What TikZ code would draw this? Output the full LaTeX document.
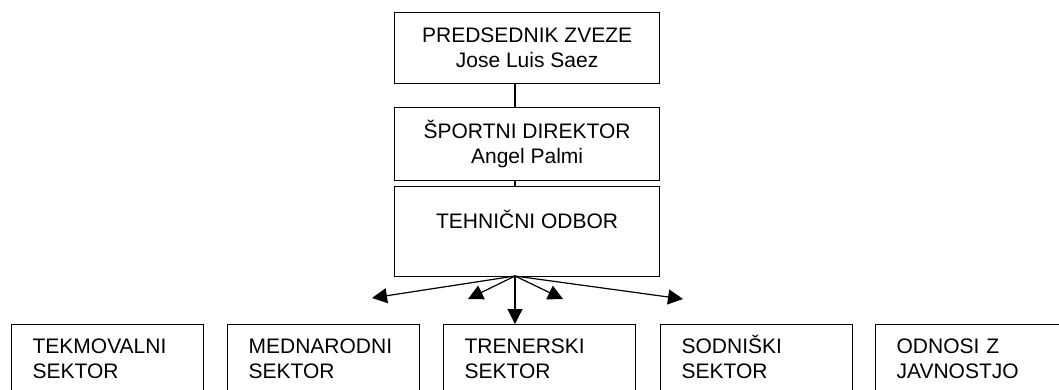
\documentclass[tikz,border=0pt]{standalone}
\usepackage{fontspec}
\setmainfont{Liberation Sans}
\usepackage{tikz}
\usetikzlibrary{arrows.meta}

\tikzset{
  every node/.style={font=\fontsize{21}{25}\selectfont},
  topbox/.style={draw,line width=1.2pt,anchor=north west,minimum width=265pt},
  sektor/.style={draw,line width=1.2pt,anchor=north west,text width=150pt,
    inner xsep=21pt,inner ysep=14pt,text height=15pt,text depth=40pt}
}

\begin{document}
\begin{tikzpicture}[x=1pt,y=-1pt,line width=1.2pt,>={Triangle[length=15pt,width=15pt]}]
  \useasboundingbox (0,0) rectangle (1059,389);
  \node[topbox,align=center,minimum height=71pt] (pres) at (394,12) {PREDSEDNIK ZVEZE\\Jose Luis Saez};
  \node[topbox,align=center,minimum height=73pt] (sport) at (394,107) {ŠPORTNI DIREKTOR\\Angel Palmi};
  \node[topbox,minimum height=90pt,text depth=24pt] (tech) at (394,186) {TEHNIČNI ODBOR};
  \node[sektor] (tek) at (11,324) {TEKMOVALNI\\SEKTOR};
  \node[sektor] (med) at (227,324) {MEDNARODNI\\SEKTOR};
  \node[sektor] (tren) at (443,324) {TRENERSKI\\SEKTOR};
  \node[sektor] (sod) at (660,324) {SODNIŠKI\\SEKTOR};
  \node[sektor] (odn) at (875,324) {ODNOSI Z\\JAVNOSTJO};
  \coordinate (hub) at (515,276);
  \draw (pres.south -| hub) -- (sport.north -| hub);
  \draw (sport.south -| hub) -- (tech.north -| hub);
  \draw[->] (hub) -- (hub |- tren.north);
  \foreach \x/\y/\n in {372/298/a,468/299/b,563/299/c,683/299/d}{
    \coordinate (end\n) at (\x,\y);
    \draw[->] (hub) -- (end\n);
  }
\end{tikzpicture}
\end{document}
